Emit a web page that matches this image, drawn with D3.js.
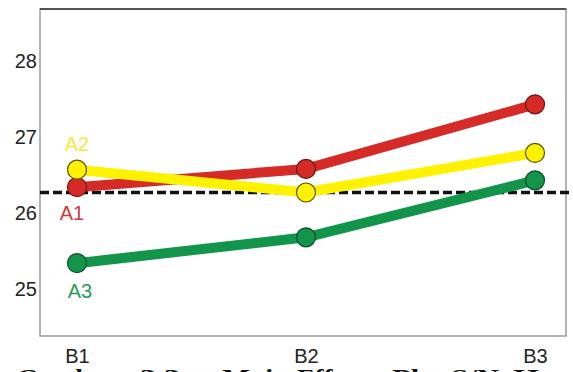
<!DOCTYPE html>
<html>
<head>
<meta charset="utf-8">
<script src="https://cdn.jsdelivr.net/npm/d3@7"></script>
<style>
  html, body { margin: 0; padding: 0; background: #fff; }
  svg { display: block; }
</style>
</head>
<body>
<svg id="chart" width="573" height="372"></svg>
<script>
// Levels of factor B along the x axis
const levels = ["B1", "B2", "B3"];
// Mean S/N ratio for each level of factor A across B1..B3
const seriesA1 = [26.34, 26.58, 27.43];
const seriesA2 = [26.57, 26.27, 26.79];
const seriesA3 = [25.34, 25.68, 26.43];
const seriesNames = ["A1", "A2", "A3"];
// Overall mean S/N (dashed reference line)
const overallMean = 26.27;
const yTicks = [25, 26, 27, 28];
const captionWords = ["Gambar", "3.3", "Main", "Effect", "Plot", "S/N", "H"];

const series = [
  { name: "A1", values: seriesA1, line: "#d62a26", fill: "#d62a26", edge: "#6b1512", label: "#d1393a", dx: -5, dy: 33 },
  { name: "A2", values: seriesA2, line: "#fff200", fill: "#fff200", edge: "#5a5400", label: "#f6e83a", dx: 0, dy: -19 },
  { name: "A3", values: seriesA3, line: "#12944a", fill: "#12944a", edge: "#0a4a25", label: "#2a9a57", dx: 3, dy: 35 }
];

const svg = d3.select("#chart");
const frame = { left: 40, top: 9, right: 566, bottom: 336 };

const x = d3.scalePoint().domain(levels).range([77, 535]);
const y = d3.scaleLinear().domain([25, 28]).range([289, 61]);

// Plot frame
svg.append("rect")
  .attr("x", frame.left).attr("y", frame.top)
  .attr("width", frame.right - frame.left).attr("height", frame.bottom - frame.top)
  .attr("fill", "#fff").attr("stroke", "#9a9a9a").attr("stroke-width", 1.5);
svg.append("line")
  .attr("x1", frame.left).attr("x2", frame.right)
  .attr("y1", frame.top).attr("y2", frame.top)
  .attr("stroke", "#333").attr("stroke-width", 1.5);

// Y axis labels
const yAxis = svg.append("g")
  .attr("transform", `translate(${frame.left},0)`)
  .call(d3.axisLeft(y).tickValues(yTicks).tickSize(0).tickPadding(3).tickFormat(d3.format("d")));
yAxis.select(".domain").remove();
yAxis.selectAll("text")
  .attr("font-family", "'Liberation Sans', Arial, sans-serif")
  .attr("font-size", 20).attr("fill", "#222");

// X axis labels
const xAxis = svg.append("g")
  .attr("transform", `translate(0,${frame.bottom})`)
  .call(d3.axisBottom(x).tickSize(0));
xAxis.select(".domain").remove();
xAxis.selectAll("text")
  .attr("y", 27).attr("dy", 0)
  .attr("font-family", "'Liberation Sans', Arial, sans-serif")
  .attr("font-size", 20).attr("fill", "#222");

// Overall mean reference line
svg.append("line")
  .attr("x1", frame.left).attr("x2", 573)
  .attr("y1", y(overallMean)).attr("y2", y(overallMean))
  .attr("stroke", "#111").attr("stroke-width", 3.5)
  .attr("stroke-dasharray", "9,4");

const line = d3.line().x((d, i) => x(levels[i])).y(d => y(d));

// Draw in order A3, A1, A2 so yellow sits on top near B1/B2
const drawOrder = ["A3", "A1", "A2"].map(n => series.find(s => s.name === n));

drawOrder.forEach(s => {
  svg.append("path")
    .datum(s.values)
    .attr("d", line)
    .attr("fill", "none")
    .attr("stroke", s.line)
    .attr("stroke-width", 10)
    .attr("stroke-linejoin", "round");
});

drawOrder.forEach(s => {
  svg.selectAll(null)
    .data(s.values)
    .join("circle")
    .attr("cx", (d, i) => x(levels[i]))
    .attr("cy", d => y(d))
    .attr("r", 9.5)
    .attr("fill", s.fill)
    .attr("stroke", s.edge)
    .attr("stroke-width", 1.2);
});

// Series labels beside the B1 points
series.forEach(s => {
  svg.append("text")
    .attr("x", x(levels[0]) + s.dx)
    .attr("y", y(s.values[0]) + s.dy)
    .attr("text-anchor", "middle")
    .attr("font-family", "'Liberation Sans', Arial, sans-serif")
    .attr("font-size", 20)
    .attr("fill", s.label)
    .text(s.name);
});

// Figure caption (runs past the bottom edge)
const captionX = [17, 140, 222, 297, 392, 451, 513];
const captionW = [100, 40, 68, 68, 53, 48, 26];
svg.selectAll(null)
  .data(captionWords)
  .join("text")
  .attr("x", (d, i) => captionX[i])
  .attr("y", 384)
  .attr("textLength", (d, i) => captionW[i])
  .attr("lengthAdjust", "spacingAndGlyphs")
  .attr("font-family", "'Liberation Serif', 'Times New Roman', serif")
  .attr("font-weight", "bold")
  .attr("font-size", 22)
  .attr("fill", "#111")
  .text(d => d);
</script>
</body>
</html>
